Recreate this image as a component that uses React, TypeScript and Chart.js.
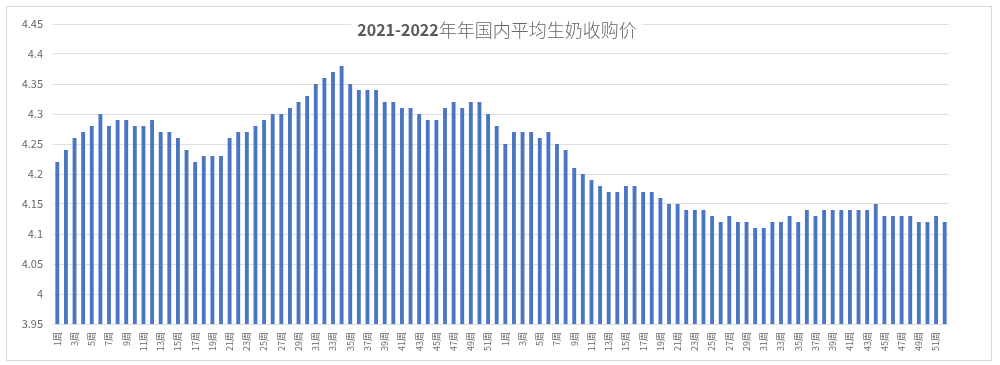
import React, { useEffect, useRef } from "react";
import { Chart, registerables } from "chart.js";

Chart.register(...registerables);

const weekNames = [
  "1周", "2周", "3周", "4周", "5周", "6周", "7周", "8周", "9周", "10周",
  "11周", "12周", "13周", "14周", "15周", "16周", "17周", "18周", "19周", "20周",
  "21周", "22周", "23周", "24周", "25周", "26周", "27周", "28周", "29周", "30周",
  "31周", "32周", "33周", "34周", "35周", "36周", "37周", "38周", "39周", "40周",
  "41周", "42周", "43周", "44周", "45周", "46周", "47周", "48周", "49周", "50周",
  "51周", "52周",
];

const categories = [...weekNames, ...weekNames];

const price2021 = [
  4.22, 4.24, 4.26, 4.27, 4.28, 4.3, 4.28, 4.29, 4.29, 4.28,
  4.28, 4.29, 4.27, 4.27, 4.26, 4.24, 4.22, 4.23, 4.23, 4.23,
  4.26, 4.27, 4.27, 4.28, 4.29, 4.3, 4.3, 4.31, 4.32, 4.33,
  4.35, 4.36, 4.37, 4.38, 4.35, 4.34, 4.34, 4.34, 4.32, 4.32,
  4.31, 4.31, 4.3, 4.29, 4.29, 4.31, 4.32, 4.31, 4.32, 4.32,
  4.3, 4.28,
];

const price2022 = [
  4.25, 4.27, 4.27, 4.27, 4.26, 4.27, 4.25, 4.24, 4.21, 4.2,
  4.19, 4.18, 4.17, 4.17, 4.18, 4.18, 4.17, 4.17, 4.16, 4.15,
  4.15, 4.14, 4.14, 4.14, 4.13, 4.12, 4.13, 4.12, 4.12, 4.11,
  4.11, 4.12, 4.12, 4.13, 4.12, 4.14, 4.13, 4.14, 4.14, 4.14,
  4.14, 4.14, 4.14, 4.15, 4.13, 4.13, 4.13, 4.13, 4.12, 4.12,
  4.13, 4.12,
];

const prices = [...price2021, ...price2022];

const titleYears = "2021-2022";
const titleText = "年年国内平均生奶收购价";

const yMin = 3.95;
const yMax = 4.45;
const yStep = 0.05;

const FONT = '"Noto Sans CJK SC", "Noto Sans", sans-serif';
const TEXT = "#595959";

const titlePlugin = {
  id: "customTitle",
  afterDraw(chart: any) {
    const ctx = chart.ctx;
    ctx.save();
    const f1 = `bold 16px ${FONT}`;
    const f2 = `300 18px ${FONT}`;
    ctx.font = f1;
    const w1 = ctx.measureText(titleYears).width;
    ctx.font = f2;
    const w2 = ctx.measureText(titleText).width;
    const total = w1 + w2;
    const cx = 490;
    const cy = 23;
    const x0 = cx - total / 2;
    ctx.fillStyle = "#ffffff";
    ctx.fillRect(x0 - 6, cy - 12, total + 12, 24);
    ctx.textBaseline = "middle";
    ctx.textAlign = "left";
    ctx.fillStyle = TEXT;
    ctx.font = f1;
    ctx.fillText(titleYears, x0, cy);
    ctx.fillStyle = "#666666";
    ctx.font = f2;
    ctx.fillText(titleText, x0 + w1, cy);
    ctx.restore();
  },
};

export default function App() {
  const ref = useRef<HTMLCanvasElement | null>(null);

  useEffect(() => {
    if (!ref.current) return;
    const chart = new Chart(ref.current, {
      type: "bar",
      data: {
        labels: categories,
        datasets: [
          {
            label: "生奶收购价",
            data: prices,
            backgroundColor: "#4a76c4",
            borderWidth: 0,
            categoryPercentage: 1,
            barPercentage: 0.45,
          },
        ],
      },
      options: {
        responsive: false,
        animation: false,
        layout: { padding: { top: 17, right: 42, left: 0, bottom: 0 } },
        plugins: {
          legend: { display: false },
          title: { display: false },
          tooltip: { enabled: false },
        },
        scales: {
          x: {
            grid: { display: false, drawTicks: false },
            border: { display: false },
            afterFit: (s: any) => {
              s.height = 35;
            },
            ticks: {
              autoSkip: false,
              minRotation: 90,
              maxRotation: 90,
              padding: 8,
              color: "#666666",
              font: { family: FONT, size: 9 },
              callback: (_v: any, i: number) => (i % 2 === 0 ? categories[i] : ""),
            },
          },
          y: {
            min: yMin,
            max: yMax,
            grid: { color: "#e0e0e0", drawTicks: false, lineWidth: 1 },
            border: { display: false },
            afterFit: (s: any) => {
              s.width = 46;
            },
            ticks: {
              stepSize: yStep,
              padding: 10,
              color: "#666666",
              font: { family: FONT, size: 11 },
              callback: (v: any) => String(parseFloat(Number(v).toFixed(2))),
            },
          },
        },
      },
      plugins: [titlePlugin],
    });
    return () => chart.destroy();
  }, []);

  return (
    <div
      style={{
        position: "absolute",
        left: 6,
        top: 6,
        width: 986,
        height: 355,
        border: "1px solid #d9d9d9",
        boxSizing: "border-box",
        background: "#fff",
      }}
    >
      <canvas ref={ref} width={984} height={352} style={{ display: "block" }} />
    </div>
  );
}
